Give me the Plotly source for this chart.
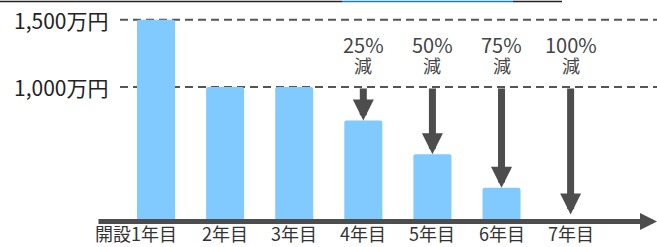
import plotly.graph_objects as go

categories = ["開設1年目", "2年目", "3年目", "4年目", "5年目", "6年目", "7年目"]
values = [1500, 1000, 1000, 750, 500, 250, 0]
reduction_labels = ["", "", "", "25%", "50%", "75%", "100%"]
grid_values = [1500, 1000]
grid_labels = ["1,500万円", "1,000万円"]

FONT = "Noto Sans CJK JP"
BAR_COLOR = "#80caff"
DARK = "#4d4d4d"

xs = list(range(len(categories)))

fig = go.Figure()
fig.add_trace(go.Bar(x=xs, y=values, width=0.55, marker=dict(color=BAR_COLOR, line=dict(width=0)),
                     marker_cornerradius=2, hoverinfo="skip"))

xmin, xmax = -2.2576, 7.25
ymin, ymax = -189.6, 1646.8

# dashed grid lines + labels
for v, lab in zip(grid_values, grid_labels):
    fig.add_shape(type="line", xref="x", yref="y", x0=-0.521, x1=xmax, y0=v, y1=v,
                  line=dict(color="#555555", width=2, dash="8px,5px"), layer="below")
    fig.add_annotation(x=-0.666, y=v, xref="x", yref="y", text=lab, showarrow=False,
                       xanchor="right", yanchor="middle",
                       font=dict(family=FONT, size=21, color="#222222"))

# reduction arrows and labels
for i, (v, lab) in enumerate(zip(values, reduction_labels)):
    if not lab:
        continue
    fig.add_annotation(x=i, y=v, ax=i, ay=1000, xref="x", yref="y", axref="x", ayref="y",
                       text="", showarrow=True, arrowhead=2, arrowwidth=7, arrowsize=0.6,
                       arrowcolor=DARK, standoff=(7 if v == 0 else 0))
    fig.add_annotation(x=i, y=1318, xref="x", yref="y", text=lab, showarrow=False,
                       xanchor="center", yanchor="middle", borderpad=0,
                       font=dict(family=FONT, size=20, color="#444444"))
    fig.add_annotation(x=i, y=1160, xref="x", yref="y", text="減", showarrow=False,
                       xanchor="center", yanchor="middle", borderpad=0,
                       font=dict(family=FONT, size=18, color="#444444"))

# x axis arrow
fig.add_annotation(x=xmax, y=0, ax=-0.854, ay=0, xref="x", yref="y", axref="x", ayref="y",
                   text="", showarrow=True, arrowhead=2, arrowwidth=5, arrowsize=0.68,
                   arrowcolor=DARK, standoff=0)

# category labels
for i, c in enumerate(categories):
    first = (i == 0)
    fig.add_annotation(x=i + (0.32 if first else 0), y=ymin + 2, xref="x", yref="y", text=c,
                       showarrow=False, xanchor=("right" if first else "center"),
                       yanchor="bottom", borderpad=0,
                       font=dict(family=FONT, size=18, color="#333333"))

# cut-off heading underline at the very top
for x0, x1, col in [(0, 342, "#222222"), (342, 513, "#1f78c8"), (513, 562, "#222222")]:
    fig.add_shape(type="line", xref="paper", yref="paper", x0=x0 / 657, x1=x1 / 657,
                  y0=1 - 1.5 / 247, y1=1 - 1.5 / 247, line=dict(color=col, width=1.5))

fig.update_layout(
    width=657, height=247, margin=dict(l=0, r=0, t=0, b=0),
    paper_bgcolor="white", plot_bgcolor="white", showlegend=False,
    xaxis=dict(range=[xmin, xmax], visible=False, fixedrange=True),
    yaxis=dict(range=[ymin, ymax], visible=False, fixedrange=True),
)

fig.write_html("out.html", config={"displayModeBar": False},
               post_script="document.body.style.margin='0px';document.body.style.overflow='hidden';")
